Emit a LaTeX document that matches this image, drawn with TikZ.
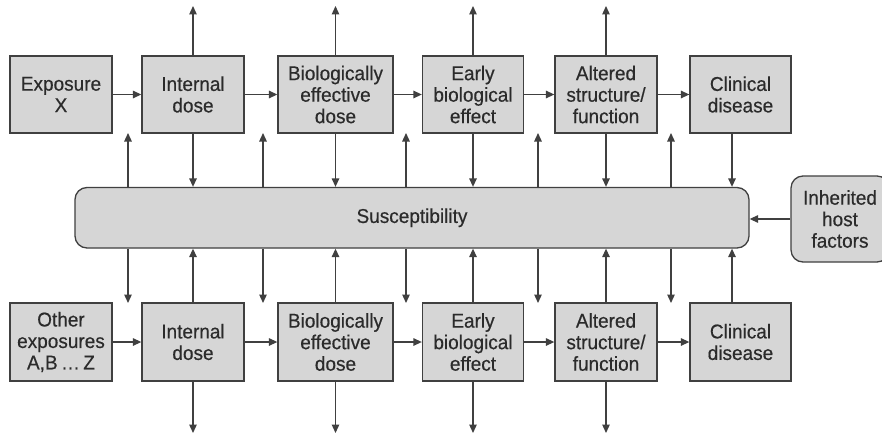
\documentclass[tikz,border=0pt]{standalone}
\usepackage{fontspec}
\setmainfont{Liberation Sans}[FakeBold=0.4,FakeStretch=0.95]
\usetikzlibrary{arrows.meta}
\definecolor{boxfill}{HTML}{D6D6D6}
\definecolor{edge}{HTML}{404040}
\definecolor{ink}{HTML}{2B2B2B}
\tikzset{
  box/.style={draw=edge, fill=boxfill, line width=1.3pt, align=center, text=ink,
    font=\fontsize{20}{21.5}\selectfont, inner sep=0pt, minimum width=102pt},
  toprow/.style={box, minimum height=77pt},
  botrow/.style={box, minimum height=78pt},
  arr/.style={draw=edge, line width=1.3pt, -{Triangle[length=8.5pt,width=7.5pt]}}
}
\begin{document}
\begin{tikzpicture}[x=1pt,y=-1pt]
\path[fill=white,use as bounding box] (0,0) rectangle (882,436);

% top row
\node[toprow] (t1) at (61,94.5) {Exposure\\X};
\node[toprow] (t2) at (193,94.5) {Internal\\dose};
\node[toprow, minimum width=115pt] (t3) at (335.5,94.5) {Biologically\\effective\\dose};
\node[toprow, minimum width=101pt] (t4) at (473,94.5) {Early\\biological\\effect};
\node[toprow] (t5) at (606,94.5) {Altered\\structure/\\function};
\node[toprow, minimum width=101pt] (t6) at (740.5,94.5) {Clinical\\disease};

% bottom row
\node[botrow] (b1) at (61,342) {Other\\exposures\\A,B\,…\,Z};
\node[botrow] (b2) at (193,342) {Internal\\dose};
\node[botrow, minimum width=115pt] (b3) at (335.5,342) {Biologically\\effective\\dose};
\node[botrow, minimum width=101pt] (b4) at (473,342) {Early\\biological\\effect};
\node[botrow] (b5) at (606,342) {Altered\\structure/\\function};
\node[botrow, minimum width=101pt] (b6) at (740.5,342) {Clinical\\disease};

% susceptibility and inherited
\node[box, rounded corners=12pt, minimum width=674pt, minimum height=60.5pt] (susc) at (412,217.75) {Susceptibility};
\node[box, rounded corners=12pt, minimum width=98pt, minimum height=86pt] (inh) at (840,219) {Inherited\\host\\factors};

% horizontal chains
\foreach \a/\b in {t1/t2,t2/t3,t3/t4,t4/t5,t5/t6,b1/b2,b2/b3,b3/b4,b4/b5,b5/b6}
  \draw[arr] (\a.east) -- (\b.west);

% outward arrows and links to susceptibility
\foreach \n in {2,3,4,5} {
  \draw[arr] (t\n.north) -- (t\n.north |- 0,6);
  \draw[arr] (b\n.south) -- (b\n.south |- 0,433);
  \draw[arr] (t\n.south) -- (t\n.south |- susc.north);
  \draw[arr] (b\n.north) -- (b\n.north |- susc.south);
}
\coordinate (t6d) at (732,133);
\coordinate (b6u) at (732,303);
\draw[arr] (t6d) -- (t6d |- susc.north);
\draw[arr] (b6u) -- (b6u |- susc.south);

% susceptibility to rows
\foreach \i/\x in {1/128,2/263,3/406,4/538,5/671} {
  \coordinate (g\i) at (\x,133);
  \coordinate (h\i) at (\x,303);
  \draw[arr] (g\i |- susc.north) -- (g\i);
  \draw[arr] (h\i |- susc.south) -- (h\i);
}

\draw[arr] (inh.west) -- (inh.west -| susc.east);
\end{tikzpicture}
\end{document}
